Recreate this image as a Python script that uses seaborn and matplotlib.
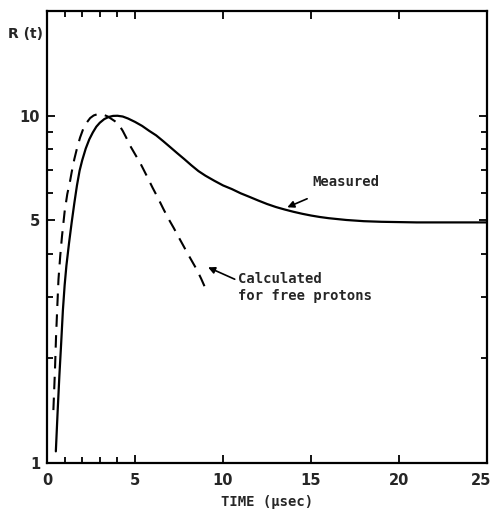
import matplotlib
matplotlib.use("Agg")
import matplotlib.pyplot as plt
import seaborn as sns
import pandas as pd
from matplotlib.ticker import FixedLocator, NullFormatter
from matplotlib.transforms import offset_copy

# measured R(t)
meas_t = [0.5, 0.6, 0.7, 0.8, 0.9, 1.0, 1.1, 1.25, 1.4, 1.55, 1.7, 1.85, 2.0, 2.2,
          2.4, 2.6, 2.8, 3.0, 3.25, 3.5, 3.75, 4.0, 4.3, 4.6, 5.0, 5.4, 5.8, 6.2,
          6.6, 7.0, 7.4, 7.8, 8.2, 8.6, 9.0, 9.5, 10.0, 10.5, 11.0, 11.5, 12.0,
          12.5, 13.0, 13.5, 14.0, 14.5, 15.0, 15.5, 16.0, 17.0, 18.0, 19.0, 20.0,
          21.0, 22.0, 23.0, 24.0, 25.0]
meas_r = [1.08, 1.4, 1.78, 2.2, 2.75, 3.25, 3.7, 4.3, 4.93, 5.6, 6.3, 6.95, 7.45,
          8.05, 8.55, 8.95, 9.3, 9.55, 9.78, 9.92, 9.99, 10.0, 9.95, 9.82, 9.6,
          9.35, 9.05, 8.78, 8.45, 8.12, 7.8, 7.5, 7.2, 6.93, 6.72, 6.5, 6.3, 6.15,
          5.98, 5.84, 5.7, 5.57, 5.46, 5.37, 5.29, 5.22, 5.16, 5.11, 5.07, 5.01,
          4.97, 4.95, 4.94, 4.93, 4.93, 4.93, 4.93, 4.93]

# calculated for free protons
calc_t = [0.36, 0.45, 0.51, 0.58, 0.65, 0.75, 0.85, 1.0, 1.15, 1.3, 1.4, 1.55, 1.7,
          1.875, 2.05, 2.25, 2.45, 2.65, 2.85, 3.05, 3.25, 3.45, 3.65, 3.85, 4.05,
          4.3, 4.5, 4.72, 5.0, 5.3, 5.66, 6.0, 6.3, 6.61, 6.9, 7.2, 7.5, 7.75, 8.0,
          8.25, 8.5, 8.75, 8.98]
calc_r = [1.42, 1.85, 2.3, 2.8, 3.38, 3.95, 4.5, 5.3, 5.95, 6.45, 6.88, 7.5, 8.05,
          8.65, 9.15, 9.55, 9.85, 10.02, 10.1, 10.1, 10.05, 9.95, 9.8, 9.65, 9.48,
          9.05, 8.65, 8.2, 7.75, 7.3, 6.72, 6.2, 5.8, 5.39, 5.05, 4.75, 4.45, 4.22,
          4.0, 3.8, 3.61, 3.4, 3.2]

x_major = [0, 5, 10, 15, 20, 25]
x_minor = [1, 2, 3, 4]
y_major = [1, 5, 10]
y_minor = [2, 3, 4, 6, 7, 8, 9]

sns.set_style("ticks")
plt.rcParams["font.family"] = ["DejaVu Sans"]

meas = pd.DataFrame({"t": meas_t, "R": meas_r})
calc = pd.DataFrame({"t": calc_t, "R": calc_r})

fig = plt.figure(figsize=(4.9, 5.11), dpi=100)
ax = fig.add_axes([0.096, 0.094, 0.898, 0.884])

sns.lineplot(data=meas, x="t", y="R", ax=ax, color="black", linewidth=1.6)
sns.lineplot(data=calc, x="t", y="R", ax=ax, color="black", linewidth=1.5)
ax.lines[-1].set_dashes([6, 4])

ax.set_yscale("log")
ax.set_xlim(0, 25)
ax.set_ylim(1, 20)

ax.xaxis.set_major_locator(FixedLocator(x_major))
ax.xaxis.set_minor_locator(FixedLocator(x_minor))
ax.yaxis.set_major_locator(FixedLocator(y_major))
ax.yaxis.set_minor_locator(FixedLocator(y_minor))
ax.set_yticklabels([str(v) for v in y_major])
ax.yaxis.set_minor_formatter(NullFormatter())

ax.tick_params(which="both", direction="in", top=True, right=True, width=1.3,
               color="black")
ax.tick_params(which="major", length=6)
ax.tick_params(which="minor", length=4)
ax.tick_params(axis="x", which="major", pad=7, labelsize=10.5)
ax.tick_params(axis="y", which="major", pad=5, labelsize=10.5)
for lab in ax.get_xticklabels() + ax.get_yticklabels():
    lab.set_fontweight("bold")
# last x label sits inside the frame edge
last = ax.get_xticklabels()[-1]
last.set_transform(offset_copy(last.get_transform(), fig=fig, x=-6, y=0,
                               units="dots"))

for sp in ax.spines.values():
    sp.set_visible(True)
    sp.set_linewidth(1.6)
    sp.set_color("black")

ax.set_xlabel("TIME (µsec)", fontsize=10, fontweight="bold", labelpad=5,
              family="DejaVu Sans Mono")
ax.set_ylabel("")
ax.text(-0.088, 0.95, "R (t)", transform=ax.transAxes, fontsize=10,
        fontweight="bold", ha="left", va="center")

ax.annotate("Measured", xy=(13.65, 5.45), xytext=(15.1, 6.45),
            fontsize=10, family="DejaVu Sans Mono", fontweight="bold",
            va="center", ha="left",
            arrowprops=dict(arrowstyle="-|>", color="black", lw=1.2,
                            shrinkA=12, shrinkB=0, mutation_scale=10))
ax.annotate("Calculated\nfor free protons", xy=(9.15, 3.66), xytext=(10.85, 3.2),
            fontsize=10, family="DejaVu Sans Mono", fontweight="bold",
            va="center", ha="left", linespacing=1.3,
            arrowprops=dict(arrowstyle="-|>", color="black", lw=1.2,
                            shrinkA=0, shrinkB=0, mutation_scale=10,
                            relpos=(0, 0.72)))

fig.savefig("out.png", dpi=100)
